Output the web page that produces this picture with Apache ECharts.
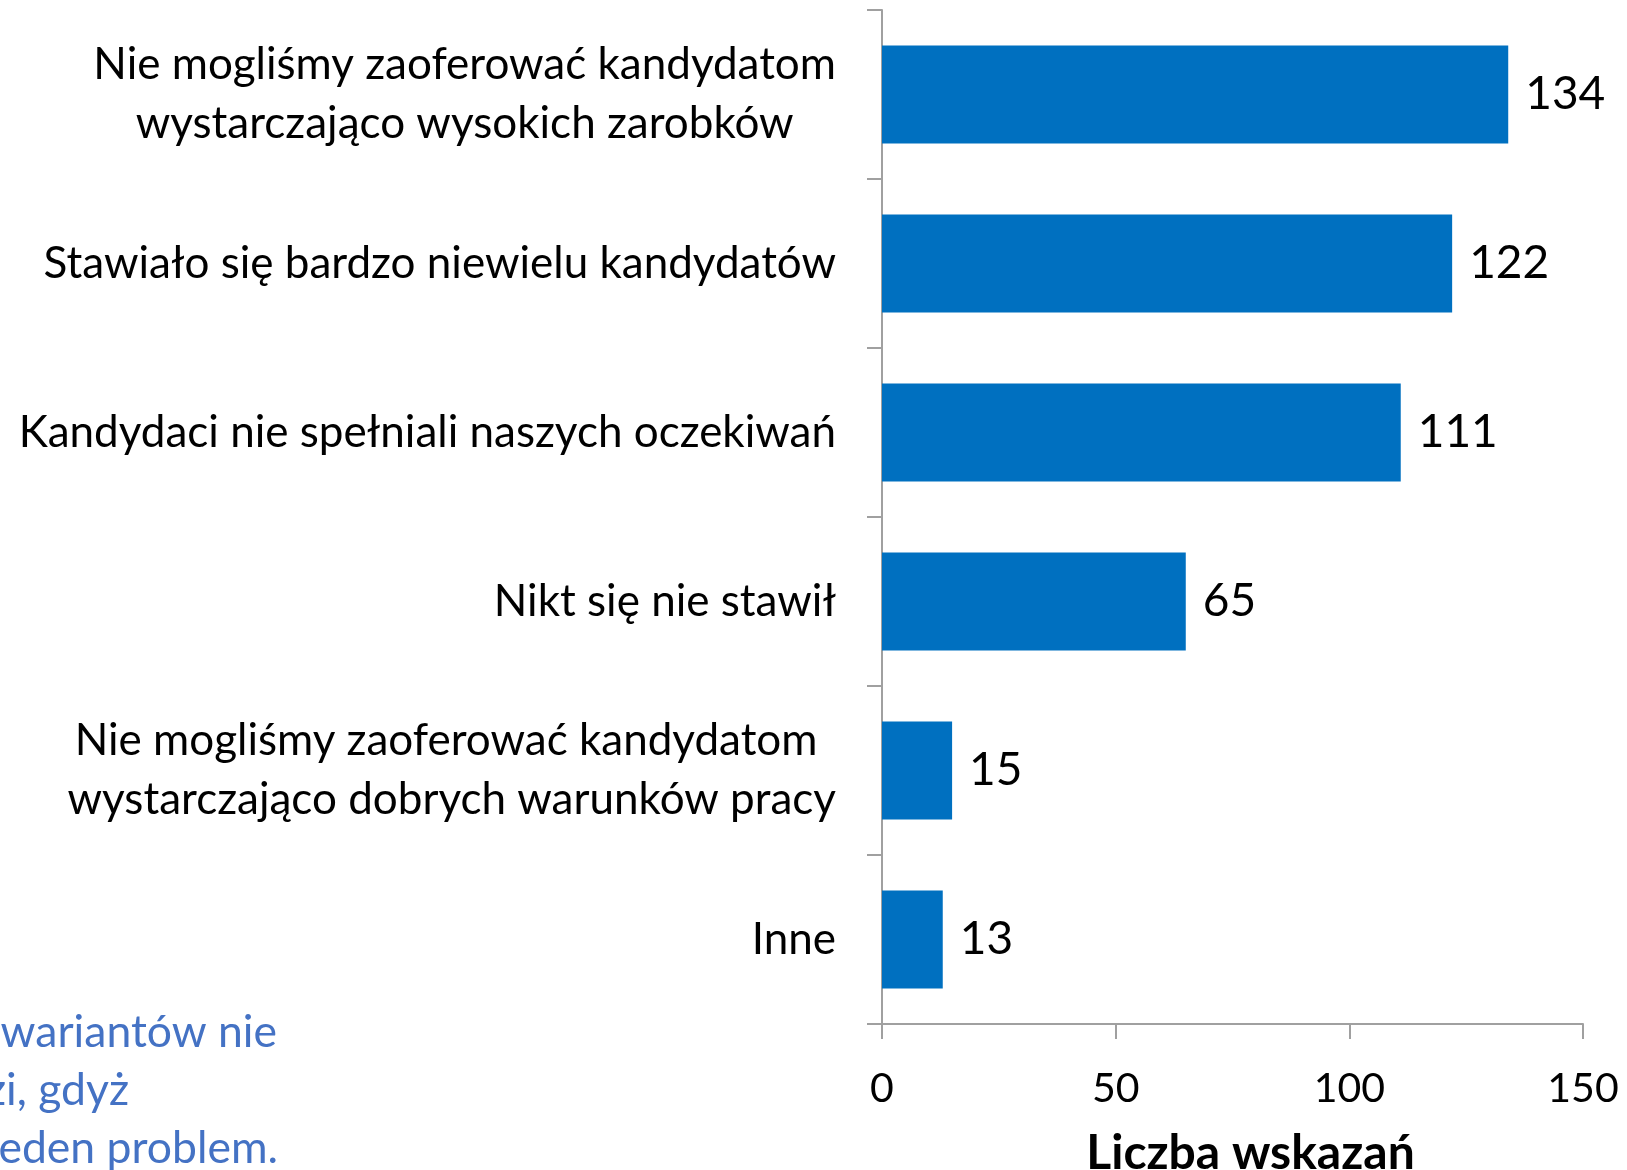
<!DOCTYPE html>
<html>
<head>
<meta charset="utf-8">
<script src="https://cdn.jsdelivr.net/npm/echarts@6/dist/echarts.min.js"></script>
<style>
html,body{margin:0;padding:0;background:#fff;}
#chart{width:1627px;height:1170px;}
</style>
</head>
<body>
<div id="chart"></div>
<script>
const categories = [
  'Nie mogliśmy zaoferować kandydatom\nwystarczająco wysokich zarobków',
  'Stawiało się bardzo niewielu kandydatów',
  'Kandydaci nie spełniali naszych oczekiwań',
  'Nikt się nie stawił',
  'Nie mogliśmy zaoferować kandydatom \nwystarczająco dobrych warunków pracy',
  'Inne'
];
const values = [134, 122, 111, 65, 15, 13];
const axisTitle = 'Liczba wskazań';
const noteLines = ['wariantów nie', 'zi, gdyż', 'eden problem.'];

const FONT = 'Lato, "Noto Sans", sans-serif';
const AXIS_COLOR = '#a0a0a0';
const chart = echarts.init(document.getElementById('chart'), null, {renderer: 'canvas'});
chart.setOption({
  animation: false,
  backgroundColor: '#ffffff',
  grid: {left: 882, right: 44, top: 10, bottom: 146, containLabel: false, outerBoundsMode: 'none'},
  xAxis: {
    type: 'value', min: 0, max: 150, interval: 50,
    axisLine: {show: true, lineStyle: {color: AXIS_COLOR, width: 2}},
    axisTick: {show: true, length: 15, lineStyle: {color: AXIS_COLOR, width: 2}},
    splitLine: {show: false},
    axisLabel: {fontFamily: FONT, fontSize: 41, color: '#000', margin: 44},
    name: axisTitle, nameLocation: 'middle', nameGap: 106,
    nameTextStyle: {fontFamily: FONT, fontSize: 48, fontWeight: 'bold', color: '#000', padding: [0, 0, 0, 36]}
  },
  yAxis: {
    type: 'category', data: categories, inverse: true,
    axisLine: {show: true, lineStyle: {color: AXIS_COLOR, width: 2}},
    axisTick: {show: true, length: 15, lineStyle: {color: AXIS_COLOR, width: 2}},
    axisLabel: {
      fontFamily: FONT, fontSize: 44, color: '#000', margin: 46, align: 'right',
      formatter: function (v) { return v.split('\n').map(function (s) { return '{c|' + s + '}'; }).join('\n'); },
      rich: {c: {fontFamily: FONT, fontSize: 44, color: '#000', align: 'center', lineHeight: 59}}
    }
  },
  series: [{
    type: 'bar', data: values, barCategoryGap: '42%',
    itemStyle: {color: '#0070C0'},
    label: {show: true, position: 'right', distance: 17, fontFamily: FONT, fontSize: 46, color: '#000'}
  }],
  graphic: noteLines.map(function (t, i) {
    return {
      type: 'text', x: [277, 129, 278][i], y: [1033, 1091, 1149][i],
      style: {text: t, fill: '#4472C4', font: '44.5px ' + FONT, textAlign: 'right', textVerticalAlign: 'middle'}
    };
  })
});
</script>
</body>
</html>
